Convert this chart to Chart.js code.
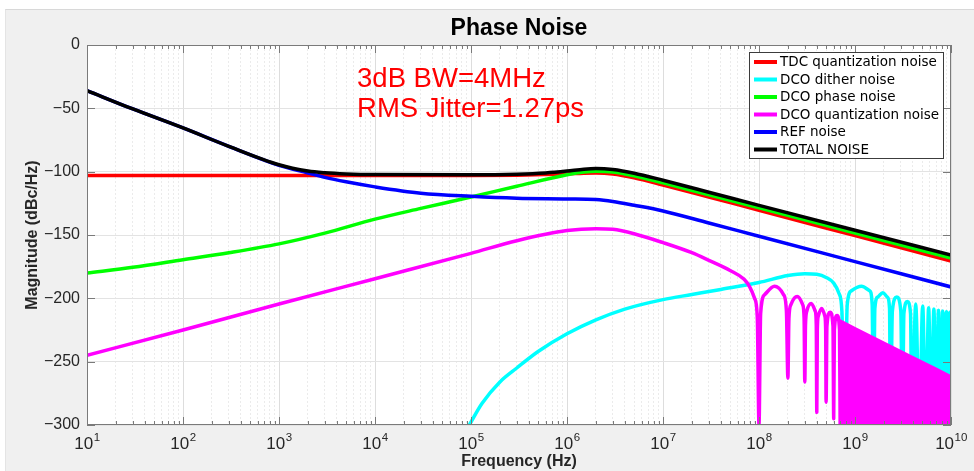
<!DOCTYPE html>
<html>
<head>
<meta charset="utf-8">
<title>Phase Noise</title>
<script src="https://cdn.jsdelivr.net/npm/chart.js@4.4.1/dist/chart.umd.min.js"></script>
<style>
  html, body { margin: 0; padding: 0; background: #fff; }
  #wrap { position: relative; width: 974px; height: 471px; overflow: hidden; }
  #panel { position: absolute; left: 5px; top: 9px; right: 0; bottom: 0; background: #f0f0f0; border-top: 1px solid #d8d8d8; border-left: 1px solid #e4e4e4; }
  #chart { position: absolute; left: 0; top: 0; }
</style>
</head>
<body>
<div id="wrap">
  <div id="panel"></div>
  <canvas id="chart" width="974" height="471"></canvas>
</div>
<script>
// frequency in Hz, level in dBc/Hz

const tdcFreq = [10, 1e3, 1e5, 3e5, 6e5, 1e6, 1.5e6, 2e6, 3e6, 5e6, 1e7, 3e7, 1e8, 1e9, 1e10];
const tdcDb   = [-103, -103, -103, -102.8, -102.3, -101.8, -101.2, -101, -101.8, -104.8, -110.5, -120, -130.5, -150.5, -170.5];

const ditherFreq = [9.6e4, 1.3e5, 2e5, 3e5, 5e5, 1e6, 2e6, 4e6, 1e7, 2e7, 4e7, 1e8, 2e8, 3e8, 4e8, 5e8, 6e8, 6.8e8, 7.3e8, 7.8e8,
  8.3e8, 9.2e8, 1.17e9, 1.42e9, 1.51e9, 1.56e9,
  1.61e9, 1.73e9, 1.95e9, 2.17e9, 2.29e9, 2.34e9,
  2.45e9, 2.73e9, 3.0e9, 3.12e9,
  3.23e9, 3.51e9, 3.79e9, 3.9e9,
  4.29e9, 4.68e9, 5.07e9, 5.46e9, 5.85e9, 6.24e9, 6.63e9, 7.02e9, 7.41e9, 7.8e9, 8.19e9, 8.58e9, 8.97e9, 9.36e9, 9.75e9, 1e10];
const ditherDb = [-300, -283, -266, -255, -242, -228, -217, -208.5, -201, -197, -193, -187.5, -182, -180.5, -181, -183.5, -188, -196, -210, -300,
  -205, -194, -190.5, -194, -205, -300,
  -208, -199, -195.5, -199, -208, -300,
  -210, -199, -210, -300,
  -212, -202.5, -212, -300,
  -204.5, -300, -206, -300, -207.5, -300, -208.5, -300, -209.5, -300, -210, -300, -210.5, -300, -211, -216];

const dcoFreq = [10, 30, 100, 300, 1e3, 3e3, 1e4, 3e4, 1e5, 3e5, 1e6, 1.5e6, 2e6, 3e6, 5e6, 1e7, 3e7, 1e8, 1e9, 1e10];
const dcoDb   = [-180, -175.5, -169.5, -164, -157, -148.5, -137.5, -129, -120, -111.5, -102.5, -100.3, -99.6, -100.2, -103.2, -108.8, -118.3, -128.6, -148.4, -168.2];

const quantFreq = [10, 100, 1e3, 1e4, 1e5, 3e5, 1e6, 2e6, 3e6, 5e6, 1e7, 2e7, 3e7, 5e7, 7e7, 8e7, 9e7, 9.6e7, 1e8,
  1.04e8, 1.15e8, 1.45e8, 1.8e8, 1.93e8, 2e8,
  2.05e8, 2.15e8, 2.5e8, 2.85e8, 2.95e8, 3e8,
  3.05e8, 3.15e8, 3.5e8, 3.85e8, 3.95e8, 4e8,
  4.05e8, 4.15e8, 4.5e8, 4.85e8, 4.95e8, 5e8,
  5.1e8, 5.5e8, 5.9e8, 6e8,
  6.1e8, 6.5e8, 6.9e8, 7e8];
const quantDb = [-245, -225, -204.5, -184.5, -164.5, -154.5, -146.5, -145, -145.5, -149, -156, -164, -170, -178, -185, -191, -200, -215, -300,
  -212, -197, -190.5, -197, -210, -263,
  -216, -205, -198.5, -205, -216, -266,
  -221, -210, -204, -210, -221, -290,
  -225, -214, -208, -214, -225, -282,
  -222, -211, -222, -295,
  -225, -213.5, -225, -300];
// above 7e8 the lobes are too dense to separate: top of the solid band
const quantBandFreq = [7e8, 1e9, 2e9, 4e9, 7e9, 1e10];
const quantBandDb   = [-218, -224, -235.5, -247, -256, -262];

const refFreq = [10, 30, 100, 300, 1e3, 2e3, 3e3, 5e3, 1e4, 3e4, 1e5, 3e5, 1e6, 2e6, 3e6, 5e6, 1e7, 3e7, 1e8, 1e9, 1e10];
const refDb   = [-36, -50.5, -65.5, -80, -95, -101, -104.5, -108, -112, -117, -119.5, -121, -121.5, -122, -123.5, -126.5, -131, -140.5, -151, -171, -191];

const totalFreq = [10, 30, 100, 300, 1e3, 2e3, 3e3, 5e3, 1e4, 1e5, 3e5, 6e5, 1e6, 1.5e6, 2e6, 3e6, 5e6, 1e7, 3e7, 1e8, 1e9, 1e10];
const totalDb   = [-36, -50.5, -65.5, -80, -94.5, -99.5, -100.9, -101.8, -102.3, -102.5, -102, -101, -99.5, -98, -97.5, -98.3, -101.2, -106.8, -116.2, -126.6, -146.3, -165.8];

const legendLabels = ["TDC quantization noise", "DCO dither noise", "DCO phase noise", "DCO quantization noise", "REF noise", "TOTAL NOISE"];
const colors = ["#ff0000", "#00ffff", "#00ff00", "#ff00ff", "#0000ff", "#000000"];

const xExps = [1, 2, 3, 4, 5, 6, 7, 8, 9, 10];
const xMinor = [2, 3, 4, 5, 6, 7, 8, 9];
const yTicks = [0, -50, -100, -150, -200, -250, -300];
const noteLines = ["3dB BW=4MHz", "RMS Jitter=1.27ps"];

const AXIS = "#262626";
const FONT = "'Liberation Sans', Arial, sans-serif";

const pts = (f, v) => f.map((x, i) => ({ x, y: v[i] }));

function series(label, color, f, v, extra) {
  return Object.assign({
    label, data: pts(f, v),
    borderColor: color, backgroundColor: color,
    borderWidth: 3.5, pointRadius: 0, fill: false, clip: 0,
    cubicInterpolationMode: "monotone",
    borderJoinStyle: "round", borderCapStyle: "round",
  }, extra || {});
}

// first dataset is painted last (on top), like MATLAB's last plotted line
const datasets = [
  series("TOTAL NOISE", colors[5], totalFreq, totalDb),
  series("REF noise", colors[4], refFreq, refDb),
  series("DCO quantization noise", colors[3], quantFreq, quantDb),
  series("", colors[3], quantBandFreq, quantBandDb, { fill: "start", cubicInterpolationMode: "default", tension: 0 }),
  series("DCO phase noise", colors[2], dcoFreq, dcoDb),
  series("DCO dither noise", colors[1], ditherFreq, ditherDb),
  series("TDC quantization noise", colors[0], tdcFreq, tdcDb),
];

const decor = {
  id: "decor",
  beforeDraw(chart) {
    const { ctx, chartArea: a } = chart;
    ctx.save();
    ctx.fillStyle = "#fff";
    ctx.fillRect(a.left, a.top, a.right - a.left, a.bottom - a.top);
    ctx.restore();
  },
  afterDraw(chart) {
    const { ctx, chartArea: a, scales } = chart;
    const xs = scales.x, ys = scales.y;
    ctx.save();

    // box + inward ticks
    ctx.strokeStyle = "#7a7a7a";
    ctx.lineWidth = 1;
    ctx.strokeRect(a.left + 0.5, a.top + 0.5, a.right - a.left - 1, a.bottom - a.top - 1);
    ctx.beginPath();
    for (const e of xExps) {
      const base = Math.pow(10, e);
      const px = Math.round(xs.getPixelForValue(base)) + 0.5;
      ctx.moveTo(px, a.bottom); ctx.lineTo(px, a.bottom - 8);
      ctx.moveTo(px, a.top); ctx.lineTo(px, a.top + 8);
      if (e < 10) {
        for (const m of xMinor) {
          const q = Math.round(xs.getPixelForValue(m * base)) + 0.5;
          ctx.moveTo(q, a.bottom); ctx.lineTo(q, a.bottom - 4);
          ctx.moveTo(q, a.top); ctx.lineTo(q, a.top + 4);
        }
      }
    }
    for (const v of yTicks) {
      const py = Math.round(ys.getPixelForValue(v)) + 0.5;
      ctx.moveTo(a.left, py); ctx.lineTo(a.left + 8, py);
      ctx.moveTo(a.right, py); ctx.lineTo(a.right - 8, py);
    }
    ctx.stroke();

    // x tick labels 10^n
    ctx.fillStyle = AXIS;
    ctx.textBaseline = "alphabetic";
    ctx.textAlign = "left";
    for (const e of xExps) {
      const px = xs.getPixelForValue(Math.pow(10, e));
      ctx.font = "17px " + FONT;
      const wb = ctx.measureText("10").width;
      ctx.font = "11.5px " + FONT;
      const we = ctx.measureText(String(e)).width;
      const x0 = px - (wb + we) / 2;
      ctx.font = "17px " + FONT;
      ctx.fillText("10", x0, 449);
      ctx.font = "11.5px " + FONT;
      ctx.fillText(String(e), x0 + wb + 0.5, 441);
    }

    // title
    ctx.font = "bold 23px " + FONT;
    ctx.textAlign = "center";
    ctx.fillStyle = "#000";
    ctx.fillText("Phase Noise", (a.left + a.right) / 2, 35);

    // red note
    ctx.font = "27.5px " + FONT;
    ctx.textAlign = "left";
    ctx.fillStyle = "#ff0000";
    const nx = xs.getPixelForValue(6.5e3);
    ctx.fillText(noteLines[0], nx, ys.getPixelForValue(-33));
    ctx.fillText(noteLines[1], nx, ys.getPixelForValue(-57));

    // legend box, top right inside the axes
    const lw = 194, lh = 106;
    const lx = a.right - 8 - lw, ly = a.top + 7;
    ctx.fillStyle = "#fff";
    ctx.fillRect(lx, ly, lw, lh);
    ctx.strokeStyle = "#3c3c3c";
    ctx.lineWidth = 1;
    ctx.strokeRect(lx + 0.5, ly + 0.5, lw, lh);
    ctx.font = "13.5px 'DejaVu Sans', sans-serif";
    ctx.textBaseline = "middle";
    legendLabels.forEach((lab, i) => {
      const y = ly + 10 + i * 17.5;
      ctx.strokeStyle = colors[i];
      ctx.lineWidth = 4;
      ctx.beginPath();
      ctx.moveTo(lx + 5, y); ctx.lineTo(lx + 28, y);
      ctx.stroke();
      ctx.fillStyle = "#000";
      ctx.fillText(lab, lx + 31, y + 0.5);
    });
    ctx.restore();
  }
};

new Chart(document.getElementById("chart"), {
  type: "line",
  data: { datasets },
  plugins: [decor],
  options: {
    responsive: false,
    animation: false,
    events: [],
    layout: { padding: { left: 0, top: 45, right: 23, bottom: 0 } },
    plugins: { legend: { display: false }, title: { display: false }, tooltip: { enabled: false } },
    scales: {
      x: {
        type: "logarithmic",
        min: 10, max: 1e10,
        afterBuildTicks: (s) => {
          const t = [];
          for (const e of xExps) {
            t.push({ value: Math.pow(10, e), major: true });
            if (e < 10) for (const m of xMinor) t.push({ value: m * Math.pow(10, e), major: false });
          }
          s.ticks = t;
        },
        afterFit: (s) => { s.height = 46; },
        ticks: { display: false },
        grid: {
          drawTicks: false,
          color: (c) => (c.tick && c.tick.major ? "#dddddd" : "#ebebeb"),
          lineWidth: 1,
        },
        border: { display: false, dash: (c) => (c.tick && !c.tick.major ? [2, 2] : []) },
        title: { display: true, text: "Frequency (Hz)", color: AXIS, font: { family: FONT, size: 16, weight: "bold" }, padding: { top: 0, bottom: 0 } },
      },
      y: {
        type: "linear",
        min: -300, max: 0,
        afterBuildTicks: (s) => { s.ticks = yTicks.map((v) => ({ value: v })); },
        afterFit: (s) => { s.width = 87; },
        ticks: {
          color: AXIS, padding: 7, autoSkip: false,
          font: { family: FONT, size: 16 },
          callback: (v) => (v < 0 ? "\u2212" + Math.abs(v) : String(v)),
        },
        grid: { drawTicks: false, color: "#e3e3e3", lineWidth: 1 },
        border: { display: false },
        title: { display: true, text: "Magnitude (dBc/Hz)", color: AXIS, font: { family: FONT, size: 16, weight: "bold" }, padding: { top: 23, bottom: 0 } },
      },
    },
  },
});
</script>
</body>
</html>
